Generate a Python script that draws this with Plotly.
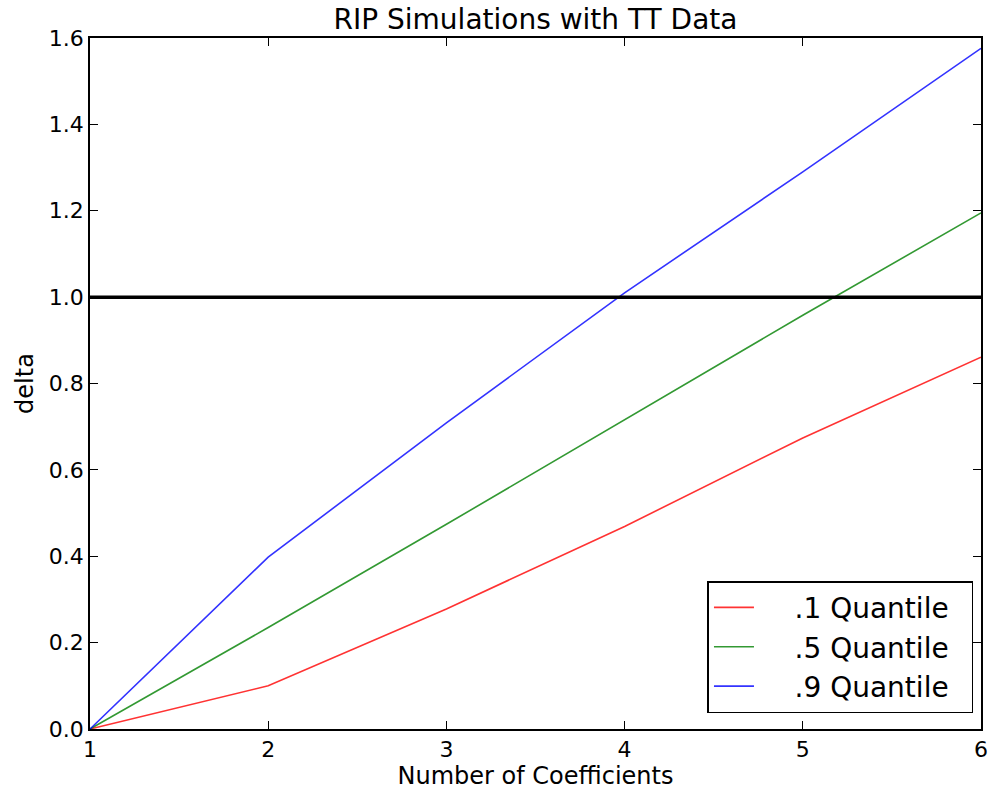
import plotly.graph_objects as go

# Number of coefficients on the x axis
coefficients = [1, 2, 3, 4, 5, 6]

# Simulated delta values for each quantile
q10 = [0.0, 0.10, 0.278, 0.469, 0.674, 0.861]
q50 = [0.0, 0.235, 0.474, 0.716, 0.958, 1.195]
q90 = [0.0, 0.398, 0.709, 1.010, 1.290, 1.576]

series = [
    (".1 Quantile", q10, "#ff0000"),
    (".5 Quantile", q50, "#008000"),
    (".9 Quantile", q90, "#0000ff"),
]

y_ticks = [0.0, 0.2, 0.4, 0.6, 0.8, 1.0, 1.2, 1.4, 1.6]
threshold = 1.0

font_family = "DejaVu Sans"
pad = "\u00a0"

fig = go.Figure()
for name, values, color in series:
    fig.add_trace(go.Scatter(
        x=coefficients, y=values, mode="lines", name=pad * 4 + name + pad * 2,
        line=dict(color=color, width=1.6),
        opacity=0.8,
    ))

# Horizontal reference at delta = 1
fig.add_shape(type="line", xref="paper", x0=0, x1=1, yref="y", y0=threshold, y1=threshold,
              line=dict(color="black", width=3.5), layer="above")

axis_common = dict(
    showline=True, linecolor="black", linewidth=1.5, mirror="allticks",
    ticks="inside", ticklen=8, tickwidth=1, tickcolor="black",
    showgrid=False, zeroline=False,
    tickfont=dict(family=font_family, size=22, color="black"),
)

fig.update_layout(
    width=994, height=799,
    margin=dict(l=90, r=6, t=38, b=70),
    paper_bgcolor="white", plot_bgcolor="white",
    font=dict(family=font_family, color="black"),
    title=dict(text="RIP Simulations with TT Data", x=0.5, xref="paper", xanchor="center",
               y=1 - 19 / 799, yanchor="middle",
               font=dict(family=font_family, size=28, color="black")),
    xaxis=dict(range=[1, 6], tickvals=coefficients, ticktext=[str(c) for c in coefficients],
               title=dict(text="Number of Coefficients", standoff=6,
                          font=dict(family=font_family, size=24)),
               **axis_common),
    yaxis=dict(range=[0, 1.6], tickvals=y_ticks, ticktext=[f"{v:.1f}" for v in y_ticks],
               title=dict(text="delta", standoff=8,
                          font=dict(family=font_family, size=24)),
               **axis_common),
    legend=dict(x=0.693, y=0.214, xanchor="left", yanchor="top",
                bgcolor="white", bordercolor="black", borderwidth=1.5,
                font=dict(family=font_family, size=28, color="black"),
                itemwidth=40, tracegroupgap=0),
    showlegend=True,
)

fig.write_html("out.html")
